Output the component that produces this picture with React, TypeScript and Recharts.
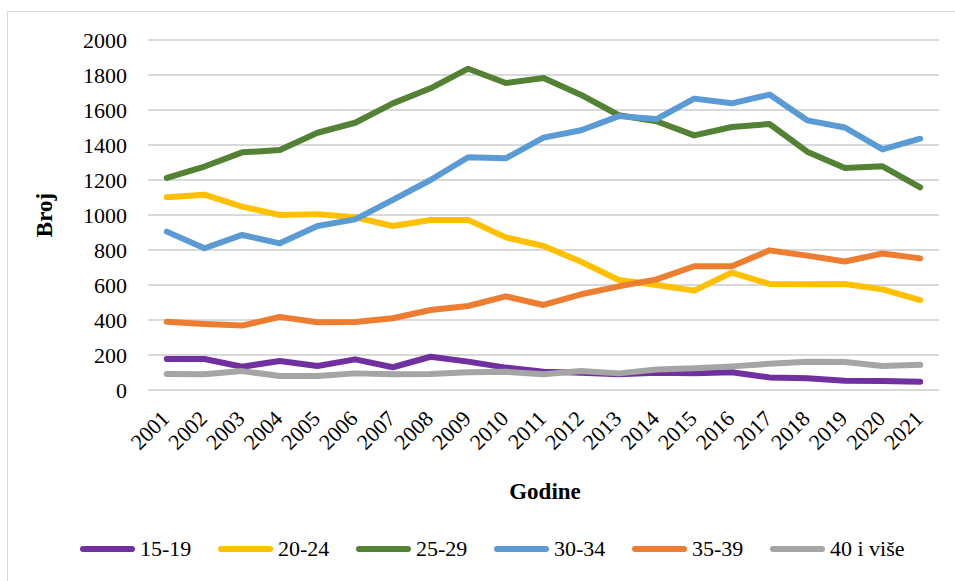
import React from 'react';
import { LineChart, Line, XAxis, YAxis, CartesianGrid } from 'recharts';

const years = ['2001', '2002', '2003', '2004', '2005', '2006', '2007', '2008', '2009', '2010', '2011',
  '2012', '2013', '2014', '2015', '2016', '2017', '2018', '2019', '2020', '2021'];

const age15to19 = [177, 177, 133, 166, 137, 175, 130, 190, 162, 128, 105, 99, 90, 99, 95, 101, 72, 67, 53, 51, 47];
const age20to24 = [1101, 1116, 1048, 1000, 1005, 987, 937, 971, 972, 872, 823, 733, 629, 600, 568, 671, 606, 604, 606, 575, 514];
const age25to29 = [1212, 1277, 1358, 1371, 1470, 1527, 1638, 1724, 1836, 1754, 1783, 1686, 1570, 1536, 1455, 1503, 1520, 1362, 1268, 1278, 1158];
const age30to34 = [905, 810, 886, 838, 937, 975, 1086, 1200, 1330, 1324, 1442, 1484, 1565, 1548, 1665, 1638, 1688, 1541, 1500, 1375, 1436];
const age35to39 = [390, 377, 368, 418, 387, 388, 410, 457, 480, 535, 486, 547, 592, 632, 707, 707, 798, 768, 734, 780, 752];
const age40plus = [91, 90, 108, 80, 80, 95, 90, 91, 101, 104, 90, 108, 95, 117, 124, 135, 150, 162, 160, 137, 144];

const yTicks = [0, 200, 400, 600, 800, 1000, 1200, 1400, 1600, 1800, 2000];

const series = [
  { key: 's1', name: '15-19', color: '#7030A0', values: age15to19 },
  { key: 's2', name: '20-24', color: '#FFC000', values: age20to24 },
  { key: 's3', name: '25-29', color: '#548235', values: age25to29 },
  { key: 's4', name: '30-34', color: '#5B9BD5', values: age30to34 },
  { key: 's5', name: '35-39', color: '#ED7D31', values: age35to39 },
  { key: 's6', name: '40 i više', color: '#A5A5A5', values: age40plus },
];

const data = years.map((year, i) => {
  const row: any = { year };
  series.forEach(s => { row[s.key] = s.values[i]; });
  return row;
});

const FONT = "'Liberation Serif', 'DejaVu Serif', serif";

const XTick = (props: any) => {
  const { x, payload } = props;
  const tx = x + 4;
  const ty = 420;
  return (
    <text x={tx} y={ty} textAnchor="end" style={{ fontFamily: FONT }} fontSize={22} fill="#000"
      transform={`rotate(-45, ${tx}, ${ty})`}>
      {payload.value}
    </text>
  );
};

export default function App() {
  return (
    <div style={{ position: 'absolute', left: 0, top: 0, width: 955, height: 581, background: '#fff', overflow: 'hidden', fontFamily: FONT }}>
      <div style={{ position: 'absolute', left: 7, top: 11, width: 970, height: 600, border: '1.5px solid #d9d9d9' }} />

      <LineChart width={955} height={581} data={data}
        margin={{ top: 40, right: 16, bottom: 151, left: 60 }}
        style={{ position: 'absolute', left: 0, top: 0, fontFamily: FONT }}>
        <CartesianGrid vertical={false} stroke="#d9d9d9" strokeWidth={2} />
        <XAxis dataKey="year" axisLine={false} tickLine={false} interval={0} height={40}
          padding={{ left: 18.8, right: 18.8 }} tick={<XTick />} />
        <YAxis domain={[0, 2000]} ticks={yTicks} axisLine={false} tickLine={false} width={88}
          tickMargin={15} tick={{ fontSize: 22, fill: '#000', style: { fontFamily: FONT } }} />
        {series.map(s => (
          <Line key={s.key} dataKey={s.key} name={s.name} stroke={s.color} strokeWidth={6}
            dot={false} activeDot={false} strokeLinecap="round" strokeLinejoin="round"
            type="linear" isAnimationActive={false} />
        ))}
      </LineChart>

      <div style={{ position: 'absolute', left: 45, top: 215, transform: 'translate(-50%, -50%) rotate(-90deg)',
        fontWeight: 'bold', fontSize: 23, color: '#000', whiteSpace: 'nowrap' }}>Broj</div>

      <div style={{ position: 'absolute', left: 545, top: 492, transform: 'translate(-50%, -50%)',
        fontWeight: 'bold', fontSize: 23, color: '#000', whiteSpace: 'nowrap' }}>Godine</div>

      <div style={{ position: 'absolute', left: 80, top: 535, display: 'flex', height: 28, alignItems: 'center' }}>
        {series.map(s => (
          <div key={s.key} style={{ width: 138, display: 'flex', alignItems: 'center' }}>
            <div style={{ width: 55, height: 6, borderRadius: 3, background: s.color }} />
            <span style={{ marginLeft: 5, fontSize: 22, color: '#000', whiteSpace: 'nowrap' }}>{s.name}</span>
          </div>
        ))}
      </div>
    </div>
  );
}
